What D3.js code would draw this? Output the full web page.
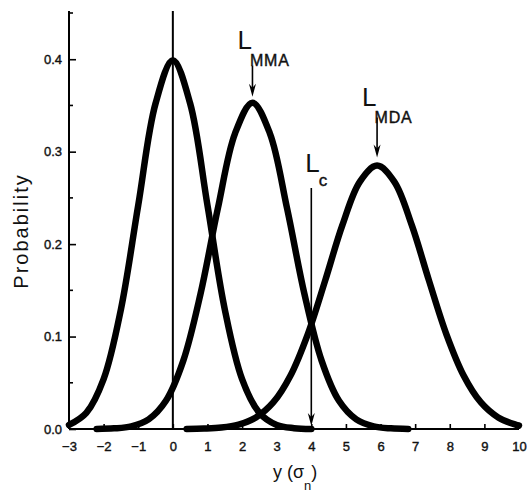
<!DOCTYPE html>
<html>
<head>
<meta charset="utf-8">
<script src="https://cdn.jsdelivr.net/npm/d3@7/dist/d3.min.js"></script>
<style>
  html, body { margin: 0; padding: 0; background: #fff; }
  svg { display: block; }
  text { font-family: "Liberation Sans", Arial, sans-serif; fill: #111; }
</style>
</head>
<body>
<svg id="chart" width="527" height="495"></svg>
<script>
// Probability densities of the measured signal y (in units of sigma_0)
const blankX = [-3, -2.5, -2, -1.5, -1, -0.5, 0, 0.5, 1, 1.5, 2, 2.5, 3, 3.5, 4];
const blankP = [0.0044, 0.0175, 0.0540, 0.1295, 0.2420, 0.3521, 0.3989, 0.3521, 0.2420, 0.1295, 0.0540, 0.0175, 0.0044, 0.0009, 0.0001];

const mmaX = [-2.2, -1.7, -1.2, -0.7, -0.2, 0.3, 0.8, 1.3, 1.8, 2.3, 2.8, 3.3, 3.8, 4.3, 4.8, 5.3, 5.8, 6.3, 6.8];
const mmaP = [0.0001, 0.0007, 0.0029, 0.0104, 0.0305, 0.0737, 0.1463, 0.2386, 0.3201, 0.353, 0.3201, 0.2386, 0.1463, 0.0737, 0.0305, 0.0104, 0.0029, 0.0007, 0.0001];

const mdaX = [0.4, 0.9, 1.4, 1.9, 2.4, 2.9, 3.4, 3.9, 4.4, 4.9, 5.4, 5.9, 6.4, 6.9, 7.4, 7.9, 8.4, 8.9, 9.4, 9.9, 10];
const mdaP = [0.0001, 0.0005, 0.0016, 0.0048, 0.0125, 0.0287, 0.0579, 0.1027, 0.1605, 0.2208, 0.2674, 0.285, 0.2674, 0.2208, 0.1605, 0.1027, 0.0579, 0.0287, 0.0125, 0.0048, 0.0039];

// Marked limits: critical level, minimum measurable and minimum detectable amounts
const limitNames = ["MMA", "MDA"];
const limitX = [2.3, 5.9];
const limitP = [0.353, 0.285];
const criticalX = 4;

const xTickValues = [-3, -2, -1, 0, 1, 2, 3, 4, 5, 6, 7, 8, 9, 10];
const yTickValues = [0.0, 0.1, 0.2, 0.3, 0.4];
const yMinorValues = [0.05, 0.15, 0.25, 0.35, 0.45];

const svg = d3.select("#chart");

const x = d3.scaleLinear().domain([-3, 10]).range([69, 519]);
const y = d3.scaleLinear().domain([0, 0.45]).range([429, 13]);

// axes with inward ticks
const xAxis = d3.axisBottom(x).tickValues(xTickValues).tickSize(-5).tickPadding(13)
  .tickFormat(d3.format("d"));
const gx = svg.append("g").attr("transform", `translate(0,${y(0)})`).call(xAxis);
gx.select(".domain").attr("stroke-width", 2).attr("d", `M${x(-3)},0H${x(10)}`);
gx.selectAll(".tick line").attr("stroke-width", 1.6);
gx.selectAll(".tick text").attr("font-size", 13).attr("fill", "#111").attr("stroke", "#111").attr("stroke-width", 0.4);

const yAxis = d3.axisLeft(y).tickValues(yTickValues).tickSize(-7).tickPadding(7)
  .tickFormat(d3.format(".1f"));
const gy = svg.append("g").attr("transform", `translate(${x(-3)},0)`).call(yAxis);
gy.select(".domain").attr("stroke-width", 2).attr("d", `M0,${y(0)}V${y(0.45) - 2}`);
gy.selectAll(".tick line").attr("stroke-width", 1.6);
gy.selectAll(".tick text").attr("font-size", 13).attr("fill", "#111").attr("stroke", "#111").attr("stroke-width", 0.4);

gy.selectAll(".minor").data(yMinorValues).join("line")
  .attr("class", "minor")
  .attr("x1", 0).attr("x2", 4)
  .attr("y1", d => y(d)).attr("y2", d => y(d))
  .attr("stroke", "#000").attr("stroke-width", 1.6);

// axis titles
svg.append("text")
  .attr("transform", `translate(28,${231}) rotate(-90)`)
  .attr("text-anchor", "middle")
  .attr("font-size", 20)
  .attr("letter-spacing", 2)
  .text("Probability");

const xt = svg.append("text")
  .attr("x", 273).attr("y", 478)
  .attr("font-size", 18);
xt.append("tspan").text("y (σ");
xt.append("tspan").attr("font-size", 13).attr("dy", 12).text("n");
xt.append("tspan").attr("dy", -12).text(")");

// vertical reference at y = 0
svg.append("line")
  .attr("x1", x(0)).attr("x2", x(0))
  .attr("y1", y(0.45) - 2).attr("y2", y(0))
  .attr("stroke", "#000").attr("stroke-width", 2);

// distribution curves
const line = d3.line()
  .x(d => x(d[0])).y(d => y(d[1]))
  .curve(d3.curveCatmullRom.alpha(0.5));

const series = [
  d3.zip(blankX, blankP),
  d3.zip(mmaX, mmaP),
  d3.zip(mdaX, mdaP)
];

svg.append("g").selectAll("path").data(series).join("path")
  .attr("d", line)
  .attr("fill", "none")
  .attr("stroke", "#000")
  .attr("stroke-width", 6.5)
  .attr("stroke-linecap", "round")
  .attr("stroke-linejoin", "round");

// downward arrow ending at (ax, tipY)
function arrow(ax, fromY, tipY) {
  svg.append("line")
    .attr("x1", ax).attr("x2", ax)
    .attr("y1", fromY).attr("y2", tipY - 6)
    .attr("stroke", "#000").attr("stroke-width", 1.6);
  svg.append("path")
    .attr("d", `M${ax - 3.5},${tipY - 13} L${ax},${tipY} L${ax + 3.5},${tipY - 13} L${ax},${tipY - 9} Z`)
    .attr("fill", "#000");
}

// critical level L_c
const xc = x(criticalX);
arrow(xc, 188, y(0) - 3);
const lc = svg.append("text").attr("x", xc - 6).attr("y", 172).attr("font-size", 26);
lc.append("tspan").text("L");
lc.append("tspan").attr("font-size", 17).attr("dx", -1).attr("dy", 14)
  .attr("stroke", "#111").attr("stroke-width", 0.4).text("c");

// arrows to the peaks of the MMA and MDA distributions
const arrowLen = [31, 40];
const arrowGap = [6, 8];
const labelRise = [54, 60];
limitNames.forEach((name, i) => {
  const px = x(limitX[i]);
  const py = y(limitP[i]);
  const tip = py - arrowGap[i];
  arrow(px, tip - arrowLen[i], tip);
  const t = svg.append("text")
    .attr("x", px - 15).attr("y", py - labelRise[i])
    .attr("font-size", 26);
  t.append("tspan").text("L");
  t.append("tspan").attr("font-size", 16).attr("letter-spacing", 0.8)
    .attr("stroke", "#111").attr("stroke-width", 0.4)
    .attr("dx", -2).attr("dy", 17).text(name);
});
</script>
</body>
</html>
